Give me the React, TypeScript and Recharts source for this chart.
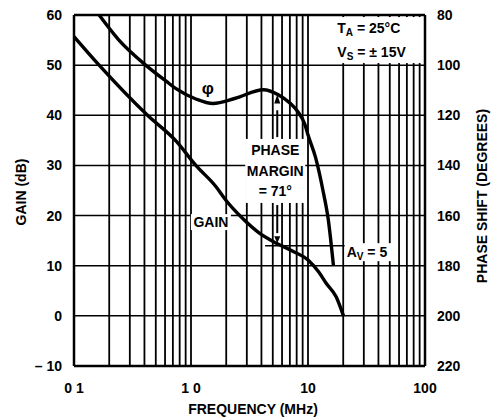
import React from 'react';
import {
  ComposedChart,
  Line,
  XAxis,
  YAxis,
  ReferenceLine,
  ReferenceDot,
} from 'recharts';

// frequency in MHz, gain in dB, phase in degrees
const gainFreq = [0.1, 0.164, 0.425, 0.75, 1.1, 1.63, 1.98, 2.74, 3.79, 5.25, 7.27, 10.06, 12.4, 14.2, 17.4, 20.1];
const gainDb = [55.7, 50, 40, 34.8, 30, 25.8, 23.1, 19.5, 16.6, 14.6, 13.0, 11.1, 8.7, 6.6, 3.8, 0];

const phaseFreq = [0.164, 0.24, 0.41, 0.62, 0.75, 1.1, 1.54, 2.4, 4.16, 5.57, 7.04, 8.2, 9.4, 10.06, 11.6, 13.4, 14.9, 16.5];
const phaseDeg = [80, 89.8, 100, 106.6, 109.5, 113.5, 115.3, 113.2, 109.8, 111.8, 115.2, 118.6, 123.6, 128.2, 136.8, 149.8, 161.6, 180];

const freqTicks = [0.1, 1, 10, 100];
const freqTickLabels = ['0 1', '1 0', '10', '100'];
const gridFreqs = [
  0.2, 0.3, 0.4, 0.5, 0.6, 0.7, 0.8, 0.9, 1,
  2, 3, 4, 5, 6, 7, 8, 9, 10,
  20, 30, 40, 50, 60, 70, 80, 90,
];
const gainTicks = [-10, 0, 10, 20, 30, 40, 50, 60];
const gainTickLabels = ['– 10', '0', '10', '20', '30', '40', '50', '60'];
const phaseTicks = [80, 100, 120, 140, 160, 180, 200, 220];

const gainData = gainFreq.map((f, i) => ({ f, gain: gainDb[i] }));
const phaseData = phaseFreq.map((f, i) => ({ f, phase: phaseDeg[i] }));

const FONT = "'Liberation Sans', Arial, sans-serif";
const txt = { fontFamily: FONT, fontWeight: 700, fontSize: 14, fill: '#000' };

// white box with text lines on the reference dot
const note = (lines: React.ReactNode[], w: number, h: number, gap = 20, anchor: 'middle' | 'start' = 'middle') =>
  (p: any) => {
    const x0 = anchor === 'middle' ? p.cx - w / 2 : p.cx - 2;
    const first = p.cy - ((lines.length - 1) * gap) / 2;
    return (
      <g>
        <rect x={x0} y={p.cy - h / 2} width={w} height={h} fill="#fff" />
        {lines.map((l, i) => (
          <text key={i} x={p.cx} y={first + i * gap} textAnchor={anchor} dominantBaseline="central" {...txt}>
            {l}
          </text>
        ))}
      </g>
    );
  };

const arrowUp = (p: any) => (
  <polygon points={`${p.cx},${p.cy} ${p.cx - 3},${p.cy + 9} ${p.cx + 3},${p.cy + 9}`} fill="#000" />
);
const arrowDown = (p: any) => (
  <polygon points={`${p.cx},${p.cy} ${p.cx - 3},${p.cy - 7} ${p.cx + 3},${p.cy - 7}`} fill="#000" />
);

export default function App() {
  return (
    <div style={{ position: 'absolute', left: 0, top: 0, background: '#fff' }}>
      <ComposedChart width={493} height={418} margin={{ top: 15, right: 0, bottom: 0, left: 0 }}>
        <XAxis
          dataKey="f"
          type="number"
          scale="log"
          domain={[0.1, 100]}
          ticks={freqTicks}
          tickFormatter={(v: number, i: number) => freqTickLabels[i]}
          allowDataOverflow
          height={52}
          tickLine={false}
          axisLine={false}
          tickSize={0}
          tickMargin={17}
          tick={txt}
        />
        <YAxis
          yAxisId="gain"
          domain={[-10, 60]}
          ticks={gainTicks}
          tickFormatter={(v: number, i: number) => gainTickLabels[i]}
          width={74}
          tickLine={false}
          axisLine={false}
          tickSize={0}
          tickMargin={12}
          tick={txt}
        />
        <YAxis
          yAxisId="phase"
          orientation="right"
          domain={[80, 220]}
          reversed
          ticks={phaseTicks}
          width={68}
          tickLine={false}
          axisLine={false}
          tickSize={0}
          tickMargin={12}
          tick={txt}
        />

        {gridFreqs.map((f) => (
          <ReferenceLine key={'v' + f} yAxisId="gain" x={f} stroke="#000" strokeWidth={1.8} />
        ))}
        {gainTicks.map((g) => (
          <ReferenceLine key={'h' + g} yAxisId="gain" y={g} stroke="#000" strokeWidth={1.5} />
        ))}

        {/* A_V = 5 leader and phase-margin arrows */}
        <ReferenceLine yAxisId="gain" segment={[{ x: 4.3, y: 14 }, { x: 21, y: 14 }]} stroke="#000" strokeWidth={1.5} />
        <ReferenceLine yAxisId="phase" segment={[{ x: 5.46, y: 128.7 }, { x: 5.46, y: 118 }]} stroke="#000" strokeWidth={2} />
        <ReferenceLine yAxisId="gain" segment={[{ x: 5.46, y: 22.1 }, { x: 5.46, y: 16.5 }]} stroke="#000" strokeWidth={2} />
        <ReferenceDot yAxisId="phase" x={5.46} y={111.7} shape={arrowUp} />
        <ReferenceDot yAxisId="gain" x={5.46} y={14.5} shape={arrowDown} />

        <Line
          yAxisId="gain"
          data={gainData}
          dataKey="gain"
          type="monotone"
          stroke="#000"
          strokeWidth={3.4}
          dot={false}
          isAnimationActive={false}
        />
        <Line
          yAxisId="phase"
          data={phaseData}
          dataKey="phase"
          type="monotone"
          stroke="#000"
          strokeWidth={3.4}
          dot={false}
          isAnimationActive={false}
        />

        {/* frame */}
        <ReferenceLine yAxisId="gain" x={0.1} stroke="#000" strokeWidth={2.5} />
        <ReferenceLine yAxisId="gain" x={100} stroke="#000" strokeWidth={2.5} />
        <ReferenceLine yAxisId="gain" y={60} stroke="#000" strokeWidth={2.5} />
        <ReferenceLine yAxisId="gain" y={-10} stroke="#000" strokeWidth={2.5} />

        {/* annotations */}
        <ReferenceDot yAxisId="gain" x={1.39} y={45.4} shape={note([<tspan fontSize={17}>φ</tspan>], 14, 16)} />
        <ReferenceDot
          yAxisId="gain"
          x={5.25}
          y={28.9}
          shape={note(['PHASE', 'MARGIN', '= 71°'], 60, 64, 20.5)}
        />
        <ReferenceDot yAxisId="gain" x={1.48} y={18.7} shape={note(['GAIN'], 40, 16)} />
        <ReferenceDot
          yAxisId="gain"
          x={21.4}
          y={12.7}
          shape={note([<>A<tspan fontSize={10} dy={4}>V</tspan><tspan dy={-4}> = 5</tspan></>], 48, 18, 20, 'start')}
        />
        <ReferenceDot
          yAxisId="gain"
          x={17.8}
          y={55}
          shape={note(
            [
              <>T<tspan fontSize={10} dy={4}>A</tspan><tspan dy={-4}> = 25°C</tspan></>,
              <>V<tspan fontSize={10} dy={4}>S</tspan><tspan dy={-4}> = ± 15V</tspan></>,
            ],
            87,
            46,
            24,
            'start'
          )}
        />

        {/* axis titles */}
        <text x={21} y={192} transform="rotate(-90 21 192)" textAnchor="middle" dominantBaseline="central" {...txt}>
          GAIN (dB)
        </text>
        <text x={482} y={196} transform="rotate(-90 482 196)" textAnchor="middle" dominantBaseline="central" {...txt}>
          PHASE SHIFT (DEGREES)
        </text>
        <text x={253} y={409} textAnchor="middle" dominantBaseline="central" {...txt}>
          FREQUENCY (MHz)
        </text>
      </ComposedChart>
    </div>
  );
}
